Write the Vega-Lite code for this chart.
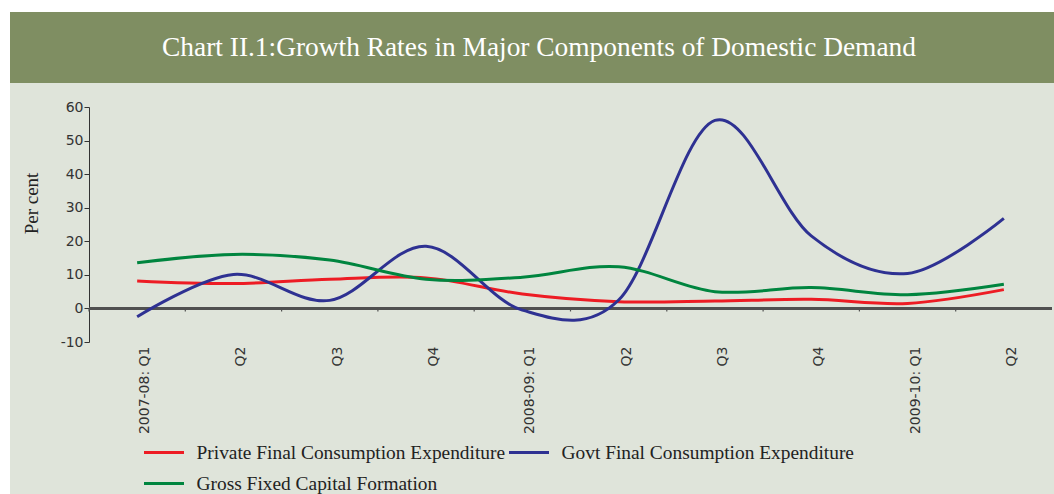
{
  "$schema": "https://vega.github.io/schema/vega-lite/v6.json",
  "background": "#dfe4da",
  "padding": 0,
  "spacing": 0,
  "config": {"view": {"stroke": null}, "concat": {"spacing": 0}, "axis": {"labelOverlap": false}},
  "datasets": {
    "growth": [
      {"p": "2007-08: Q1", "s": "Private Final Consumption Expenditure", "v": 8.2},
      {"p": "2007-08: Q2", "s": "Private Final Consumption Expenditure", "v": 7.4},
      {"p": "2007-08: Q3", "s": "Private Final Consumption Expenditure", "v": 8.7},
      {"p": "2007-08: Q4", "s": "Private Final Consumption Expenditure", "v": 9.1},
      {"p": "2008-09: Q1", "s": "Private Final Consumption Expenditure", "v": 4.3},
      {"p": "2008-09: Q2", "s": "Private Final Consumption Expenditure", "v": 2.0},
      {"p": "2008-09: Q3", "s": "Private Final Consumption Expenditure", "v": 2.2},
      {"p": "2008-09: Q4", "s": "Private Final Consumption Expenditure", "v": 2.7},
      {"p": "2009-10: Q1", "s": "Private Final Consumption Expenditure", "v": 1.5},
      {"p": "2009-10: Q2", "s": "Private Final Consumption Expenditure", "v": 5.6},
      {"p": "2007-08: Q1", "s": "Govt Final Consumption Expenditure", "v": -2.5},
      {"p": "2007-08: Q2", "s": "Govt Final Consumption Expenditure", "v": 10.1},
      {"p": "2007-08: Q3", "s": "Govt Final Consumption Expenditure", "v": 2.4},
      {"p": "2007-08: Q4", "s": "Govt Final Consumption Expenditure", "v": 18.5},
      {"p": "2008-09: Q1", "s": "Govt Final Consumption Expenditure", "v": -0.5},
      {"p": "2008-09: Q2", "s": "Govt Final Consumption Expenditure", "v": 2.5},
      {"p": "2008-09: Q3", "s": "Govt Final Consumption Expenditure", "v": 56.0},
      {"p": "2008-09: Q4", "s": "Govt Final Consumption Expenditure", "v": 21.6},
      {"p": "2009-10: Q1", "s": "Govt Final Consumption Expenditure", "v": 10.4},
      {"p": "2009-10: Q2", "s": "Govt Final Consumption Expenditure", "v": 26.8},
      {"p": "2007-08: Q1", "s": "Gross Fixed Capital Formation", "v": 13.6},
      {"p": "2007-08: Q2", "s": "Gross Fixed Capital Formation", "v": 16.1},
      {"p": "2007-08: Q3", "s": "Gross Fixed Capital Formation", "v": 14.4},
      {"p": "2007-08: Q4", "s": "Gross Fixed Capital Formation", "v": 8.7},
      {"p": "2008-09: Q1", "s": "Gross Fixed Capital Formation", "v": 9.3},
      {"p": "2008-09: Q2", "s": "Gross Fixed Capital Formation", "v": 12.4},
      {"p": "2008-09: Q3", "s": "Gross Fixed Capital Formation", "v": 5.0},
      {"p": "2008-09: Q4", "s": "Gross Fixed Capital Formation", "v": 6.2},
      {"p": "2009-10: Q1", "s": "Gross Fixed Capital Formation", "v": 4.1},
      {"p": "2009-10: Q2", "s": "Gross Fixed Capital Formation", "v": 7.2}
    ]
  },
  "hconcat": [
    {
      "width": 10, "height": 494,
      "view": {"fill": "white", "stroke": null},
      "data": {"values": []},
      "mark": "point",
      "encoding": {}
    },
    {
      "spacing": 0,
      "vconcat": [
        {
          "width": 1044, "height": 12,
          "view": {"fill": "white", "stroke": null},
          "data": {"values": []},
          "mark": "point",
          "encoding": {}
        },
        {
          "width": 1044, "height": 71,
          "view": {"fill": "#7f8e62", "stroke": null},
          "data": {"values": [{"t": "Chart II.1:Growth Rates in Major Components of Domestic Demand"}]},
          "mark": {"type": "text", "font": "Liberation Serif", "fontSize": 27.4, "color": "white", "dx": 7},
          "encoding": {"text": {"field": "t", "type": "nominal"}}
        },
        {
          "width": 1044, "height": 17,
          "data": {"values": []},
          "mark": "point",
          "encoding": {}
        },
        {
          "spacing": 0,
          "hconcat": [
            {
              "width": 12, "height": 10,
              "data": {"values": []},
              "mark": "point",
              "encoding": {}
            },
            {
              "width": 963, "height": 235,
              "data": {"name": "growth"},
              "encoding": {
                "y": {
                  "field": "v", "type": "quantitative",
                  "scale": {"domain": [-10, 60], "nice": false, "zero": false},
                  "axis": {
                    "values": [-10, 0, 10, 20, 30, 40, 50, 60], "grid": false, "labelOverlap": false,
                    "domainColor": "#333333", "tickColor": "#333333", "tickSize": 5,
                    "labelPadding": 1, "labelFont": "DejaVu Sans", "labelFontSize": 14, "labelColor": "#333333",
                    "labelExpr": "replace(datum.label, '−', '-')",
                    "title": "Per cent", "titleFont": "Liberation Serif", "titleFontSize": 19,
                    "titleFontWeight": "normal", "titleColor": "#222222", "titlePadding": 19, "titleY": 96
                  }
                }
              },
              "layer": [
                {
                  "mark": {"type": "rule", "color": "#505050", "strokeWidth": 1.5},
                  "encoding": {"y": {"datum": 0, "type": "quantitative"}}
                },
                {
                  "transform": [{"filter": "datum.s == 'Private Final Consumption Expenditure'"}],
                  "mark": {"type": "rule", "color": "#505050", "strokeWidth": 1.2},
                  "encoding": {
                    "x": {"field": "p", "type": "ordinal", "sort": null, "bandPosition": 0},
                    "y": {"datum": 0, "type": "quantitative"},
                    "y2": {"datum": -0.9}
                  }
                },
                {
                  "mark": {"type": "line", "interpolate": "cardinal", "strokeWidth": 3},
                  "encoding": {
                    "x": {
                      "field": "p", "type": "ordinal", "sort": null, "bandPosition": 0.5,
                      "scale": {"type": "band", "paddingInner": 0, "paddingOuter": 0},
                      "axis": {
                        "title": null, "domain": false, "ticks": false, "labelAngle": -90,
                        "labelFont": "DejaVu Sans", "labelFontSize": 14, "labelColor": "#333333",
                        "labelPadding": 4, "labelOffset": 8, "labelOverlap": false,
                        "labelExpr": "slice(datum.label, -2) == 'Q1' ? datum.label : slice(datum.label, -2)"
                      }
                    },
                    "color": {
                      "field": "s", "type": "nominal",
                      "sort": ["Private Final Consumption Expenditure", "Govt Final Consumption Expenditure", "Gross Fixed Capital Formation"],
                      "scale": {
                        "domain": ["Private Final Consumption Expenditure", "Govt Final Consumption Expenditure", "Gross Fixed Capital Formation"],
                        "range": ["#ed1c24", "#2e3192", "#00853f"]
                      },
                      "legend": {
                        "title": null, "orient": "none", "legendX": 142.5, "legendY": 431,
                        "direction": "horizontal", "columns": 2,
                        "symbolType": "stroke", "symbolStrokeWidth": 3, "symbolSize": 1600,
                        "labelFont": "Liberation Serif", "labelFontSize": 19.4, "labelColor": "#222222",
                        "labelOffset": 11, "columnPadding": -3, "rowPadding": -15, "labelLimit": 500
                      }
                    }
                  }
                }
              ]
            }
          ]
        }
      ]
    }
  ]
}
